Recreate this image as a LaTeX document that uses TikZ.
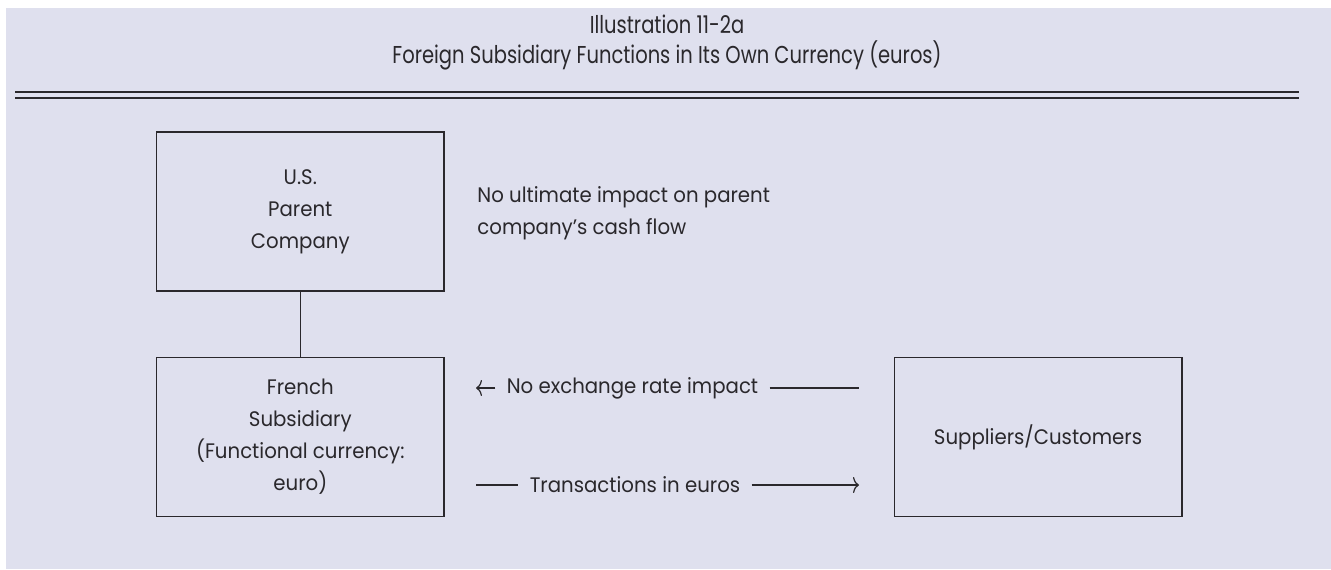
\documentclass[tikz,border=0pt]{standalone}
\usepackage{fontspec}
\setmainfont[FakeStretch=0.94]{Poppins}
\newfontfamily\titlefont[FakeStretch=0.8]{Poppins}
\usetikzlibrary{positioning,arrows.meta}
\definecolor{panel}{HTML}{DFE0EE}
\definecolor{ink}{HTML}{2A282C}

\begin{document}
\begin{tikzpicture}[x=0.5pt,y=-0.5pt,
        box/.style={draw=ink,line width=0.75pt,minimum width=143.75pt,minimum height=79.5pt,
          align=center,text=ink,inner sep=0pt,font=\fontsize{10.5}{16}\selectfont},
        lbl/.style={text=ink,inner xsep=5.5pt,inner ysep=0pt,font=\fontsize{10.5}{16}\selectfont},
        link/.style={draw=ink,line width=0.6pt},
        tip/.style={-{To[length=3pt,width=8pt]}}]
        \fill[white] (0,0) rectangle (1331,569);
        \fill[panel] (6,8) rectangle (1331,569);

        \node[text=ink,align=center,font=\titlefont\fontsize{12.2}{15}\selectfont] (title) at (667,43)
          {Illustration 11-2a\\Foreign Subsidiary Functions in Its Own Currency (euros)};
        \draw[ink,line width=1pt] (15,91.7) -- (1299,91.7);
        \draw[ink,line width=1pt] (15,97.7) -- (1299,97.7);

        \node[box] (parent) at (300.3,211.6) {U.S.\\Parent\\Company};
        \node[box,below=32.5pt of parent] (french) {French\\Subsidiary\\(Functional currency:\\euro)};
        \node[box,right=224.35pt of french] (supp) {Suppliers/Customers};
        \draw[link] (parent) -- (french);

        \node[text=ink,align=left,anchor=west,inner sep=0pt,font=\fontsize{10.5}{16}\selectfont] (note) at (477,213)
          {No ultimate impact on parent\\company’s cash flow};

        \coordinate (impactL) at (476,388);
        \coordinate (impactR) at (859,388);
        \node[lbl] (impact) at (632.5,388) {No exchange rate impact};
        \draw[link,tip] (impact.west) -- (impactL);
        \draw[link] (impact.east) -- (impactR);

        \coordinate (transL) at (476,485);
        \coordinate (transR) at (859,485);
        \node[lbl] (trans) at (635,485) {Transactions in euros};
        \draw[link] (transL) -- (trans.west);
        \draw[link,tip] (trans.east) -- (transR);
\end{tikzpicture}
\end{document}
